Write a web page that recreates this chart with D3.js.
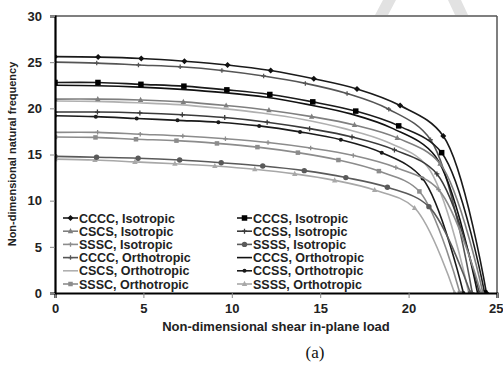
<!DOCTYPE html>
<html>
<head>
<meta charset="utf-8">
<script src="https://cdn.jsdelivr.net/npm/d3@7"></script>
<style>
  body { margin: 0; background: #fff; }
  svg { display: block; font-family: "Liberation Sans", Arial, sans-serif; }
</style>
</head>
<body>
<div id="chart"></div>
<script>
// series names, in the order Excel plotted them
var seriesNames = [
  "CCCC, Isotropic", "CCCS, Isotropic", "CSCS, Isotropic", "CCSS, Isotropic",
  "SSSC, Isotropic", "SSSS, Isotropic", "CCCC, Orthotropic", "CCCS, Orthotropic",
  "CSCS, Orthotropic", "CCSS, Orthotropic", "SSSC, Orthotropic", "SSSS, Orthotropic"
];

// shear load steps (x) and frequencies (y)
var loadCCCCIso = [0, 2.44, 4.88, 7.32, 9.76, 12.2, 14.64, 17.08, 19.52, 21.96, 24.4];
var freqCCCCIso = [25.6, 25.55, 25.4, 25.1, 24.7, 24.1, 23.2, 22.1, 20.3, 17.0, 0];
var loadCCCSIso = [0, 2.43, 4.86, 7.29, 9.72, 12.15, 14.58, 17.01, 19.44, 21.87, 24.3];
var freqCCCSIso = [22.8, 22.8, 22.6, 22.4, 22.0, 21.5, 20.7, 19.7, 18.1, 15.2, 0];
var loadCSCSIso = [0, 2.42, 4.84, 7.26, 9.68, 12.1, 14.52, 16.94, 19.36, 21.78, 24.2];
var freqCSCSIso = [21.0, 21.0, 20.9, 20.7, 20.3, 19.8, 19.1, 18.2, 16.8, 14.0, 0];
var loadCCSSIso = [0, 2.4, 4.8, 7.2, 9.6, 12.0, 14.4, 16.8, 19.2, 21.6, 24.0];
var freqCCSSIso = [19.6, 19.6, 19.5, 19.3, 19.0, 18.5, 17.8, 16.9, 15.5, 12.9, 0];
var loadSSSCIso = [0, 2.41, 4.82, 7.23, 9.64, 12.05, 14.46, 16.87, 19.28, 21.69, 24.1];
var freqSSSCIso = [17.4, 17.4, 17.2, 17.0, 16.7, 16.3, 15.7, 14.9, 13.6, 11.2, 0];
var loadSSSSIso = [0, 2.35, 4.7, 7.05, 9.4, 11.75, 14.1, 16.45, 18.8, 21.15, 23.5];
var freqSSSSIso = [14.8, 14.7, 14.6, 14.4, 14.1, 13.75, 13.25, 12.5, 11.45, 9.35, 0];

var loadCCCCOrt = [0, 2.36, 4.72, 7.08, 9.44, 11.8, 14.16, 16.52, 18.88, 21.24, 23.6];
var freqCCCCOrt = [25.0, 24.9, 24.7, 24.5, 24.1, 23.5, 22.7, 21.6, 19.9, 16.6, 0];
var loadCCCSOrt = [0, 2.39, 4.78, 7.17, 9.56, 11.95, 14.34, 16.73, 19.12, 21.51, 23.9];
var freqCCCSOrt = [22.5, 22.45, 22.3, 22.05, 21.7, 21.2, 20.4, 19.4, 17.8, 14.8, 0];
var loadCSCSOrt = [0, 2.34, 4.68, 7.02, 9.36, 11.7, 14.04, 16.38, 18.72, 21.06, 23.4];
var freqCSCSOrt = [20.8, 20.75, 20.6, 20.4, 20.0, 19.5, 18.8, 17.8, 16.4, 13.7, 0];
var loadCCSSOrt = [0, 2.31, 4.62, 6.93, 9.24, 11.55, 13.86, 16.17, 18.48, 20.79, 23.1];
var freqCCSSOrt = [19.2, 19.1, 18.9, 18.7, 18.5, 18.1, 17.45, 16.6, 15.2, 12.4, 0];
var loadSSSCOrt = [0, 2.29, 4.58, 6.87, 9.16, 11.45, 13.74, 16.03, 18.32, 20.61, 22.9];
var freqSSSCOrt = [16.9, 16.85, 16.65, 16.5, 16.2, 15.8, 15.2, 14.4, 13.2, 11.0, 0];
var loadSSSSOrt = [0, 2.26, 4.52, 6.78, 9.04, 11.3, 13.56, 15.82, 18.08, 20.34, 22.6];
var freqSSSSOrt = [14.5, 14.4, 14.2, 14.0, 13.75, 13.4, 12.9, 12.2, 11.15, 9.2, 0];

var xTicks = [0, 5, 10, 15, 20, 25];
var yTicks = [0, 5, 10, 15, 20, 25, 30];

var loads = [loadCCCCIso, loadCCCSIso, loadCSCSIso, loadCCSSIso, loadSSSCIso, loadSSSSIso,
             loadCCCCOrt, loadCCCSOrt, loadCSCSOrt, loadCCSSOrt, loadSSSCOrt, loadSSSSOrt];
var freqs = [freqCCCCIso, freqCCCSIso, freqCSCSIso, freqCCSSIso, freqSSSCIso, freqSSSSIso,
             freqCCCCOrt, freqCCCSOrt, freqCSCSOrt, freqCCSSOrt, freqSSSCOrt, freqSSSSOrt];

// line colour + marker for each series
var styles = [
  { color: "#1a1a1a", marker: "diamond", fill: "#111", size: 3 },
  { color: "#1a1a1a", marker: "square", fill: "#000", size: 5.5 },
  { color: "#7f7f7f", marker: "triangle", fill: "#7f7f7f", size: 4.5 },
  { color: "#3a3a3a", marker: "plus", fill: "#3a3a3a", size: 5 },
  { color: "#8c8c8c", marker: "plus", fill: "#8c8c8c", size: 4.5 },
  { color: "#5a5a5a", marker: "circle", fill: "#5a5a5a", size: 2.7 },
  { color: "#555", marker: "plus", fill: "#555", size: 4.5 },
  { color: "#111", marker: "none" },
  { color: "#b0b0b0", marker: "none" },
  { color: "#1a1a1a", marker: "circle", fill: "#1a1a1a", size: 2 },
  { color: "#8c8c8c", marker: "square", fill: "#8c8c8c", size: 4.5 },
  { color: "#a8a8a8", marker: "triangle", fill: "#a8a8a8", size: 4.5 }
];

var W = 503, H = 365;
var svg = d3.select("#chart").append("svg").attr("width", W).attr("height", H);

var x = d3.scaleLinear().domain([0, 25]).range([55, 497]);
var y = d3.scaleLinear().domain([0, 30]).range([293, 16]);

// faint watermark remnants at the top
svg.append("path").attr("d", "M383,0 L396,0 L388,15 L375,15 Z").attr("fill", "#e2e2e2");
svg.append("path").attr("d", "M448,0 L461,0 L468,15 L455,15 Z").attr("fill", "#e2e2e2");

// plot frame
svg.append("line").attr("x1", x(0)).attr("x2", x(25)).attr("y1", y(30)).attr("y2", y(30))
  .attr("stroke", "#555").attr("stroke-width", 1.5);
svg.append("line").attr("x1", x(25)).attr("x2", x(25)).attr("y1", y(30)).attr("y2", y(0))
  .attr("stroke", "#555").attr("stroke-width", 1.5);

svg.append("defs").append("clipPath").attr("id", "clip")
  .append("rect").attr("x", x(0)).attr("y", y(30)).attr("width", x(25) - x(0)).attr("height", y(0) - y(30));

var line = d3.line()
  .x(function (d) { return x(d[0]); })
  .y(function (d) { return y(d[1]); })
  .curve(d3.curveCatmullRom.alpha(0.5));

var drawMarker = function (g, st, cx, cy) {
  var s = st.size;
  if (st.marker === "diamond") {
    g.append("path").attr("d", "M" + cx + "," + (cy - s) + "L" + (cx + s) + "," + cy + "L" + cx + "," + (cy + s) + "L" + (cx - s) + "," + cy + "Z")
      .attr("fill", st.fill);
  } else if (st.marker === "square") {
    g.append("rect").attr("x", cx - s / 2).attr("y", cy - s / 2).attr("width", s).attr("height", s).attr("fill", st.fill);
  } else if (st.marker === "triangle") {
    g.append("path").attr("d", "M" + cx + "," + (cy - s * 0.7) + "L" + (cx + s * 0.6) + "," + (cy + s * 0.45) + "L" + (cx - s * 0.6) + "," + (cy + s * 0.45) + "Z")
      .attr("fill", st.fill);
  } else if (st.marker === "circle") {
    g.append("circle").attr("cx", cx).attr("cy", cy).attr("r", s).attr("fill", st.fill);
  } else if (st.marker === "plus") {
    g.append("path").attr("d", "M" + (cx - s / 2) + "," + cy + "H" + (cx + s / 2) + "M" + cx + "," + (cy - s / 2) + "V" + (cy + s / 2))
      .attr("stroke", st.fill).attr("stroke-width", 1.3);
  }
};

var plot = svg.append("g").attr("clip-path", "url(#clip)");
// draw orthotropic first so the isotropic ones sit on top
var order = [6, 7, 8, 9, 10, 11, 0, 1, 2, 3, 4, 5];
order.forEach(function (i) {
  var pts = loads[i].map(function (v, k) { return [v, freqs[i][k]]; });
  var st = styles[i];
  plot.append("path").datum(pts)
    .attr("d", line)
    .attr("fill", "none")
    .attr("stroke", st.color)
    .attr("stroke-width", 1.6);
  if (st.marker !== "none") {
    var mg = plot.append("g");
    pts.forEach(function (p) { drawMarker(mg, st, x(p[0]), y(p[1])); });
  }
});

// axes
var xAxis = svg.append("g").attr("transform", "translate(0," + y(0) + ")")
  .call(d3.axisBottom(x).tickValues(xTicks).tickSize(5).tickPadding(6));
var yAxis = svg.append("g").attr("transform", "translate(" + x(0) + ",0)")
  .call(d3.axisLeft(y).tickValues(yTicks).tickSize(5).tickPadding(8));
[xAxis, yAxis].forEach(function (a) {
  a.select(".domain").attr("stroke", "#000").attr("stroke-width", 2.2);
  a.selectAll(".tick line").attr("stroke", "#888").attr("stroke-width", 1);
  a.selectAll(".tick text").attr("font-size", 13).attr("font-weight", "bold")
    .attr("fill", "#222").attr("font-family", "Liberation Sans, Arial, sans-serif");
});
// last x label sits right at the page edge; keep it inside
xAxis.selectAll(".tick text").filter(function (d) { return d === 25; })
  .attr("text-anchor", "end").attr("dx", 6);

// axis titles
svg.append("text").attr("x", 276).attr("y", 331).attr("text-anchor", "middle")
  .attr("font-size", 13).attr("font-weight", "bold").attr("fill", "#222")
  .text("Non-dimensional shear in-plane load");
svg.append("text").attr("transform", "translate(16,154) rotate(-90)").attr("text-anchor", "middle")
  .attr("font-size", 11).attr("font-weight", "bold").attr("fill", "#222")
  .text("Non-dimensional natural frequency");
svg.append("text").attr("x", 315).attr("y", 358).attr("text-anchor", "middle")
  .attr("font-size", 17).attr("font-family", "Liberation Serif, Times New Roman, serif").attr("fill", "#111")
  .text("(a)");

// LEGEND (Excel fills it row by row, two columns)
var legend = svg.append("g");
seriesNames.forEach(function (name, i) {
  var col = i % 2, row = Math.floor(i / 2);
  var lx = col === 0 ? 63 : 237, ly = 218 + row * 13.2;
  var st = styles[i];
  var g = legend.append("g");
  g.append("line").attr("x1", lx).attr("x2", lx + 15).attr("y1", ly).attr("y2", ly)
    .attr("stroke", st.color).attr("stroke-width", 1.6);
  if (st.marker !== "none") drawMarker(g, st, lx + 7.5, ly);
  g.append("text").attr("x", lx + 16).attr("y", ly + 4.5)
    .attr("font-size", 12.5).attr("font-weight", "bold").attr("fill", "#222")
    .text(name);
});
</script>
</body>
</html>
